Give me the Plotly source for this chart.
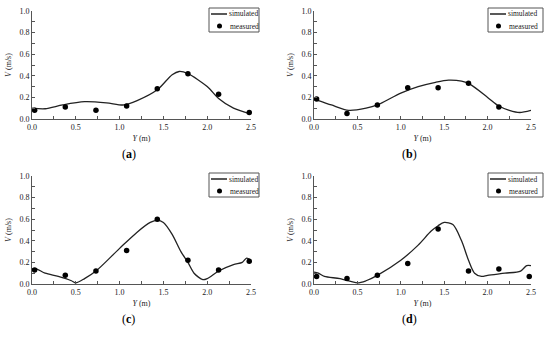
import plotly.graph_objects as go

W, H = 550, 337

# measured positions (m)
meas_x = [0.03, 0.38, 0.73, 1.08, 1.43, 1.78, 2.13, 2.48]
meas_a = [0.08, 0.11, 0.08, 0.12, 0.28, 0.42, 0.23, 0.06]
meas_b_x = [0.03, 0.38, 0.73, 1.08, 1.43, 1.78, 2.13]
meas_b = [0.185, 0.05, 0.13, 0.29, 0.29, 0.33, 0.11]
meas_c = [0.13, 0.08, 0.12, 0.31, 0.60, 0.22, 0.13, 0.21]
meas_d = [0.07, 0.05, 0.08, 0.19, 0.51, 0.12, 0.14, 0.07]

# simulated curves
sim_a_x = [0.0, 0.15, 0.35, 0.6, 0.85, 1.05, 1.2, 1.43, 1.6, 1.68, 1.78, 2.0, 2.13, 2.3, 2.48]
sim_a_y = [0.10, 0.095, 0.13, 0.16, 0.15, 0.13, 0.17, 0.27, 0.41, 0.44, 0.42, 0.30, 0.19, 0.10, 0.05]

sim_b_x = [0.0, 0.05, 0.2, 0.4, 0.6, 0.73, 1.0, 1.2, 1.4, 1.55, 1.7, 1.8, 2.0, 2.13, 2.25, 2.37, 2.5]
sim_b_y = [0.18, 0.17, 0.13, 0.08, 0.10, 0.13, 0.24, 0.30, 0.34, 0.36, 0.35, 0.32, 0.20, 0.12, 0.08, 0.06, 0.08]

sim_c_x = [0.0, 0.05, 0.15, 0.3, 0.45, 0.5, 0.6, 0.73, 1.0, 1.2, 1.35, 1.43, 1.5, 1.6, 1.7, 1.78, 1.85, 1.95, 2.0, 2.13, 2.3, 2.4, 2.45, 2.5]
sim_c_y = [0.14, 0.14, 0.10, 0.07, 0.03, 0.01, 0.05, 0.12, 0.33, 0.48, 0.57, 0.59, 0.57, 0.46, 0.30, 0.20, 0.10, 0.04, 0.05, 0.12, 0.18, 0.20, 0.24, 0.22]

sim_d_x = [0.0, 0.05, 0.12, 0.3, 0.5, 0.6, 0.73, 1.0, 1.2, 1.35, 1.43, 1.5, 1.6, 1.7, 1.78, 1.85, 1.93, 2.0, 2.2, 2.38, 2.45, 2.5]
sim_d_y = [0.11, 0.10, 0.07, 0.05, 0.01, 0.03, 0.08, 0.22, 0.36, 0.49, 0.54, 0.57, 0.55, 0.40, 0.22, 0.10, 0.07, 0.08, 0.10, 0.12, 0.17, 0.17]

x_ticks = [0.0, 0.5, 1.0, 1.5, 2.0, 2.5]
y_ticks = [0.0, 0.2, 0.4, 0.6, 0.8, 1.0]
captions = ["a", "b", "c", "d"]

FONT = "Liberation Serif"
INK = "#222222"

panels = [
    dict(sx=sim_a_x, sy=sim_a_y, mx=meas_x, my=meas_a, px=(32, 251), py=(11, 119), leg=(209, 259)),
    dict(sx=sim_b_x, sy=sim_b_y, mx=meas_b_x, my=meas_b, px=(314, 531), py=(11, 119), leg=(488, 543)),
    dict(sx=sim_c_x, sy=sim_c_y, mx=meas_x, my=meas_c, px=(32, 251), py=(176, 284), leg=(209, 259)),
    dict(sx=sim_d_x, sy=sim_d_y, mx=meas_x, my=meas_d, px=(314, 531), py=(176, 284), leg=(488, 543)),
]

def fx(p):
    return p / W

def fy(p):
    return 1 - p / H

fig = go.Figure()
shapes = []
annotations = []

for i, p in enumerate(panels):
    n = i + 1
    xa = "x" if n == 1 else f"x{n}"
    ya = "y" if n == 1 else f"y{n}"
    fig.add_trace(go.Scatter(x=p["sx"], y=p["sy"], mode="lines", line=dict(color=INK, width=1.3, shape="spline", smoothing=0.8),
                             xaxis=xa, yaxis=ya, showlegend=False, name="simulated", cliponaxis=False))
    fig.add_trace(go.Scatter(x=p["mx"], y=p["my"], mode="markers", marker=dict(color="black", size=5.5),
                             xaxis=xa, yaxis=ya, showlegend=False, name="measured", cliponaxis=False))
    axx = dict(domain=[fx(p["px"][0]), fx(p["px"][1])], range=[0, 2.5], tickvals=x_ticks, tickformat=".1f",
               ticks="inside", ticklen=3, tickcolor="#555", showline=True, linecolor="#555", linewidth=1,
               showgrid=False, zeroline=False, tickfont=dict(family=FONT, size=8, color=INK), automargin=False,
               minor=dict(dtick=0.25, tick0=0, ticks="inside", ticklen=3, tickcolor="#555"),
               title=dict(text="<i>Y</i> (m)", font=dict(family=FONT, size=8, color=INK), standoff=4),
               anchor=ya)
    ayy = dict(domain=[fy(p["py"][1]), fy(p["py"][0])], range=[0, 1.0], tickvals=y_ticks, tickformat=".1f",
               ticks="inside", ticklen=3, tickcolor="#555", showline=True, linecolor="#555", linewidth=1,
               showgrid=False, zeroline=False, tickfont=dict(family=FONT, size=8, color=INK), automargin=False,
               minor=dict(dtick=0.1, tick0=0, ticks="inside", ticklen=3, tickcolor="#555"),
               title=dict(text="<i>V</i> (m/s)", font=dict(family=FONT, size=8, color=INK), standoff=6),
               anchor=xa)
    kx = "xaxis" if n == 1 else f"xaxis{n}"
    ky = "yaxis" if n == 1 else f"yaxis{n}"
    fig.update_layout(**{kx: axx, ky: ayy})

    # legend box
    l0, l1 = p["leg"]
    t = p["py"][0] - 3
    shapes.append(dict(type="rect", xref="paper", yref="paper", x0=fx(l0), x1=fx(l1), y0=fy(t + 24), y1=fy(t),
                       line=dict(color="#555", width=1), fillcolor="white"))
    shapes.append(dict(type="line", xref="paper", yref="paper", x0=fx(l0 + 2), x1=fx(l0 + 18), y0=fy(t + 6), y1=fy(t + 6),
                       line=dict(color=INK, width=1.5)))
    shapes.append(dict(type="circle", xref="paper", yref="paper", x0=fx(l0 + 8), x1=fx(l0 + 13), y0=fy(t + 20.5), y1=fy(t + 15.5),
                       line=dict(color="black", width=0), fillcolor="black"))
    annotations.append(dict(xref="paper", yref="paper", x=fx(l0 + 18), y=fy(t + 6), text="simulated", showarrow=False,
                            xanchor="left", yanchor="middle", font=dict(family=FONT, size=7.5, color=INK)))
    annotations.append(dict(xref="paper", yref="paper", x=fx(l0 + 19), y=fy(t + 18), text="measured", showarrow=False,
                            xanchor="left", yanchor="middle", font=dict(family=FONT, size=7.5, color=INK)))
    # caption
    cx = (p["px"][0] + p["px"][1]) / 2 - 13
    cy = p["py"][1] + 35
    annotations.append(dict(xref="paper", yref="paper", x=fx(cx), y=fy(cy), text=f"(<b>{captions[i]}</b>)", showarrow=False,
                            xanchor="center", yanchor="middle", font=dict(family=FONT, size=12, color="black")))

fig.update_layout(width=W, height=H, margin=dict(l=0, r=0, t=0, b=0), paper_bgcolor="white", plot_bgcolor="white",
                  shapes=shapes, annotations=annotations, showlegend=False)

fig.write_html("out.html", config={"displayModeBar": False},
               post_script="document.body.style.margin='0';document.body.style.overflow='hidden';")
